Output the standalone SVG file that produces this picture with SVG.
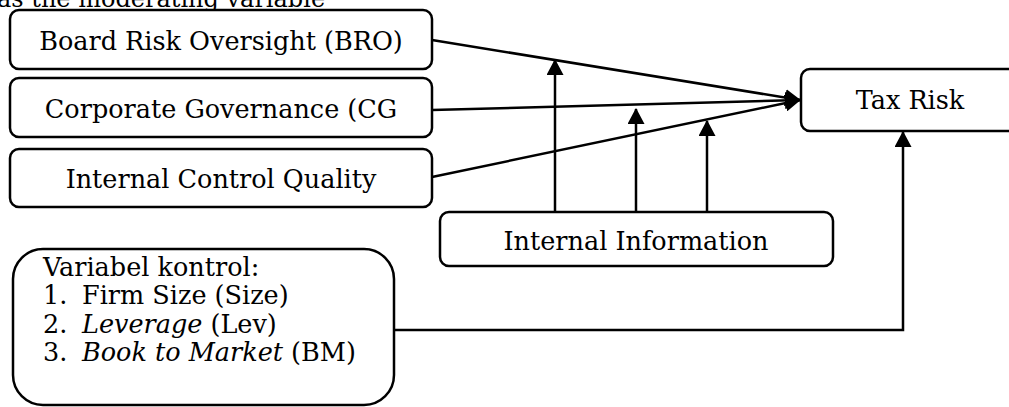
<svg xmlns="http://www.w3.org/2000/svg" width="1009" height="407" viewBox="0 0 1009 407">
<style>
.box{fill:#fff;stroke:#000;stroke-width:2.5}
.t{font-family:"DejaVu Serif","Liberation Serif",serif;font-size:25.5px;fill:#000}
.c{text-anchor:middle}
.ln{fill:none;stroke:#000;stroke-width:2.5}
</style>
<defs>
<marker id="ah" markerUnits="userSpaceOnUse" markerWidth="16" markerHeight="17" viewBox="0 0 16 17" refX="15" refY="8.5" orient="auto">
<path d="M0,0 L16,8.5 L0,17 Z" fill="#000"/>
</marker>
</defs>
<rect width="1009" height="407" fill="#fff"/>
<text class="t" x="-3" y="7" style="font-size:24px">as the moderating variable</text>
<g id="connectors">
<line class="ln" x1="432" y1="40" x2="800" y2="100" marker-end="url(#ah)"/>
<line class="ln" x1="432" y1="110" x2="800" y2="100" marker-end="url(#ah)"/>
<line class="ln" x1="432" y1="177" x2="800" y2="100" marker-end="url(#ah)"/>
<line class="ln" x1="555" y1="212" x2="555" y2="60" marker-end="url(#ah)"/>
<line class="ln" x1="636" y1="212" x2="636" y2="109" marker-end="url(#ah)"/>
<line class="ln" x1="707" y1="212" x2="707" y2="121" marker-end="url(#ah)"/>
<polyline class="ln" points="394,330 903,330 903,132" marker-end="url(#ah)"/>
</g>
<g id="bro">
<rect class="box" x="10" y="10" width="422" height="59" rx="9"/>
<text class="t c" x="221" y="50">Board Risk Oversight (BRO)</text>
</g>
<g id="cg">
<rect class="box" x="10" y="78" width="422" height="59" rx="9"/>
<text class="t c" x="221" y="118">Corporate Governance (CG</text>
</g>
<g id="icq">
<rect class="box" x="10" y="149" width="422" height="58" rx="9"/>
<text class="t c" x="221" y="188">Internal Control Quality</text>
</g>
<g id="taxrisk">
<rect class="box" x="801" y="69" width="220" height="62" rx="9"/>
<text class="t c" x="910" y="109">Tax Risk</text>
</g>
<g id="internalinfo">
<rect class="box" x="440" y="212" width="393" height="54" rx="9"/>
<text class="t c" x="636" y="250">Internal Information</text>
</g>
<g id="control">
<rect class="box" x="13" y="249" width="381" height="156" rx="30"/>
<text class="t" x="43" y="276">Variabel kontrol:</text>
<text class="t" x="43" y="304">1.</text><text class="t" x="82" y="304">Firm Size (Size)</text>
<text class="t" x="43" y="333">2.</text><text class="t" x="82" y="333"><tspan font-style="italic">Leverage</tspan> (Lev)</text>
<text class="t" x="43" y="361">3.</text><text class="t" x="82" y="361"><tspan font-style="italic">Book to Market</tspan> (BM)</text>
</g>
</svg>
